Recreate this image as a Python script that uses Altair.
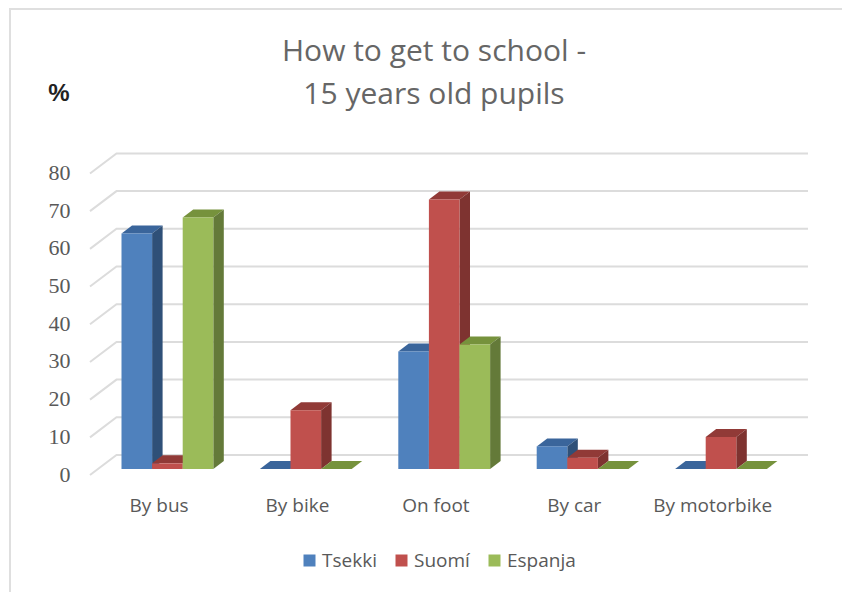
import json
import altair as alt
import pandas as pd

categories = ["By bus", "By bike", "On foot", "By car", "By motorbike"]
series = ["Tsekki", "Suomí", "Espanja"]
tsekki = [62.5, 0, 31.2, 6, 0]
suomi = [1.5, 15.6, 71.5, 3, 8.5]
espanja = [66.7, 0, 33, 0, 0]
y_ticks = [0, 10, 20, 30, 40, 50, 60, 70, 80]
front_colors = ["#4f81bd", "#c0504d", "#9bbb59"]
top_colors = ["#3a659b", "#913a37", "#76923c"]
side_colors = ["#2f5078", "#7e3330", "#647a39"]

W, H = 834, 584
PX_U = 138.4          # pixels per category
PX_V = 3.77           # pixels per percent
X0, Y0 = 113.5, 461   # svg position of first bar's left edge / bar baseline
BAR = 30.6 / PX_U
DX = 10.5 / PX_U
DY = 8 / PX_V

x_scale = alt.Scale(domain=[-X0 / PX_U, (W - X0) / PX_U], range=[0, W], nice=False, zero=False)
y_scale = alt.Scale(domain=[-(H - Y0) / PX_V, Y0 / PX_V], range=[H, 0], nice=False, zero=False)

values = [tsekki, suomi, espanja]
front, side, top, = [], [], []
for s, (name, vals) in enumerate(zip(series, values)):
    for c, v in enumerate(vals):
        l = c + s * BAR
        r = l + BAR
        key = f"{s}-{c}"
        front.append(dict(series=name, category=categories[c], l=l, r=r, v=v, base=0))
        side += [dict(s=s, key=key, x=r, y=v, y2=0), dict(s=s, key=key, x=r + DX, y=v + DY, y2=DY)]
        top += [dict(s=s, key=key, x=l, y=v, y2=v), dict(s=s, key=key, x=l + DX, y=v, y2=v + DY),
                dict(s=s, key=key, x=r, y=v, y2=v + DY), dict(s=s, key=key, x=r + DX, y=v + DY, y2=v + DY)]
front, side, top = pd.DataFrame(front), pd.DataFrame(side), pd.DataFrame(top)

# gridlines
FRONT_X, BACK_X, END_X = (90 - 121.5) / PX_U, (116.5 - 121.5) / PX_U, (808 - 121.5) / PX_U
grid = []
for t in y_ticks:
    grid += [dict(t=t, i=0, x=FRONT_X, y=t - 1.6), dict(t=t, i=1, x=BACK_X, y=t + 3.71), dict(t=t, i=2, x=END_X, y=t + 3.71)]
grid = pd.DataFrame(grid)

label_shift = 0.268
label_expr = f"{json.dumps(categories)}[round(datum.value - {label_shift})]"

x_axis = alt.Axis(orient="bottom", values=[i + label_shift for i in range(5)], labelExpr=label_expr,
                  offset=-96, domain=False, ticks=False, grid=False, title=None, labelPadding=0,
                  labelFont="Open Sans", labelFontSize=19, labelColor="#595959", labelBaseline="top")
y_axis = alt.Axis(orient="left", values=y_ticks, offset=-66, domain=False, ticks=False, grid=False,
                  title=None, labelPadding=4, labelOffset=5, labelFont="Liberation Serif", labelFontSize=22,
                  labelColor="#595959")
x_enc = alt.X("x:Q", scale=x_scale, axis=x_axis, title=None)
y_enc = alt.Y("y:Q", scale=y_scale, axis=y_axis, title=None)

grid_layer = alt.Chart(grid).mark_line(color="#dcdcdc", strokeWidth=2).encode(
    x=x_enc, y=y_enc, detail="t:N", order="i:Q")

layers = [grid_layer]
for s, name in enumerate(series):
    layers.append(alt.Chart(top[top.s == s]).mark_area(color=top_colors[s]).encode(
        x=x_enc, y=y_enc, y2="y2:Q", detail="key:N"))
    layers.append(alt.Chart(side[side.s == s]).mark_area(color=side_colors[s]).encode(
        x=x_enc, y=y_enc, y2="y2:Q", detail="key:N"))
    layers.append(alt.Chart(front[front.series == name]).mark_bar().encode(
        x=alt.X("l:Q", scale=x_scale, axis=x_axis, title=None), x2="r:Q",
        y=alt.Y("v:Q", scale=y_scale, axis=y_axis, title=None), y2="base:Q",
        color=alt.Color("series:N", scale=alt.Scale(domain=series, range=front_colors),
                        legend=alt.Legend(orient="none", legendX=292, legendY=543, direction="horizontal",
                                          columns=3, title=None, symbolType="square", symbolSize=144,
                                          symbolStrokeWidth=0, symbolOpacity=1,
                                          labelFont="Open Sans", labelFontSize=19, labelColor="#595959",
                                          columnPadding=15, labelOffset=3, gridAlign="none"))))

percent = alt.Chart(pd.DataFrame({"t": ["%"]})).mark_text(
    font="Liberation Sans", fontWeight="bold", fontSize=24, color="#222222", align="center", baseline="middle"
).encode(x=alt.value(51), y=alt.value(86), text="t:N")

frame_left = alt.Chart(pd.DataFrame({"a": [0]})).mark_rule(color="#dfdfdf", strokeWidth=2).encode(
    x=alt.value(2), y=alt.value(0), y2=alt.value(H))
frame_top = alt.Chart(pd.DataFrame({"a": [0]})).mark_rule(color="#dfdfdf", strokeWidth=2).encode(
    x=alt.value(2), x2=alt.value(W), y=alt.value(1))

chart = alt.layer(frame_left, frame_top, *layers, percent).resolve_scale(color="shared").properties(
    width=W, height=H, padding=0, autosize=alt.AutoSizeParams(type="none"), background="white",
    title=alt.TitleParams(text=["How to get to school -", "15 years old pupils"], anchor="middle", dx=9,
                          offset=-103, font="Open Sans", fontSize=30, fontWeight="normal", color="#666666",
                          lineHeight=43, baseline="top")
).configure_view(stroke=None)

chart.save("out.html", embed_options={"renderer": "svg", "actions": False})
